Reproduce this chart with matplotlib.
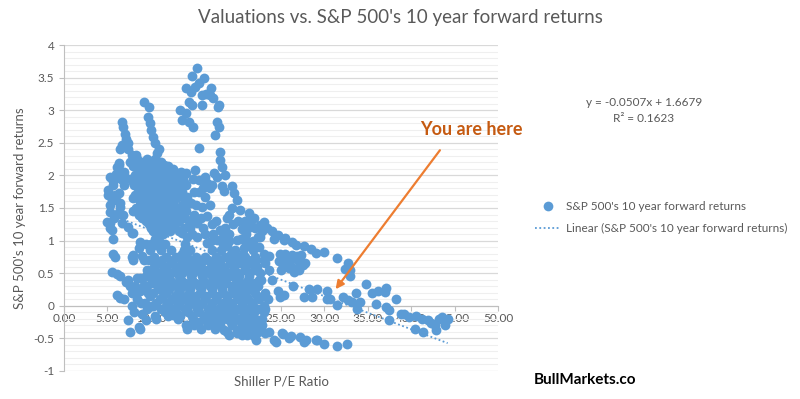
import numpy as np
import matplotlib
matplotlib.use("Agg")
import matplotlib.pyplot as plt
from matplotlib.lines import Line2D
from matplotlib.ticker import MultipleLocator, FuncFormatter

plt.rcParams['font.family'] = ['Lato', 'DejaVu Sans']

# (Shiller P/E, 10y forward return), grouped by region
left_cluster = [
    (6.7, 2.82), (6.8, 2.74), (7.0, 2.64), (7.2, 2.56), (7.4, 2.49), (7.2, 2.45), (6.7, 2.47),
    (6.5, 2.40), (7.4, 2.41), (6.3, 2.19), (6.1, 2.13), (6.3, 2.16), (6.0, 2.02), (5.3, 1.98),
    (5.9, 1.98), (7.0, 1.98), (6.6, 1.95), (5.7, 1.86), (6.9, 1.85), (5.1, 1.78), (6.3, 1.73),
    (5.9, 1.70), (5.1, 1.70), (5.3, 1.55), (6.4, 1.57), (6.5, 1.52), (5.3, 1.44), (6.3, 1.44),
    (6.8, 1.39), (4.9, 1.29), (5.3, 1.27), (6.7, 1.27), (5.3, 1.20), (5.5, 1.16), (7.4, 1.21),
    (7.8, 1.11), (8.0, 1.11), (5.7, 1.03), (5.6, 0.80), (5.9, 0.75), (5.5, 0.52), (6.1, 0.48),
    (6.5, 0.45), (6.1, 0.17), (6.5, 0.12), (6.9, 0.10), (7.8, 0.75), (8.0, 0.70), (8.6, 0.88),
    (9.0, 0.77), (9.2, 0.70), (8.0, 0.78), (8.8, 0.98), (7.2, 0.37), (7.6, 0.30), (7.8, 0.20),
    (8.8, 0.42), (8.4, 0.42), (7.4, 0.40), (8.4, 0.10), (8.8, 0.22), (7.8, 0.00), (7.4, -0.22),
    (7.6, -0.40), (8.6, -0.32), (8.8, -0.35), (9.3, 0.04), (10.1, 0.00), (9.7, 0.19), (9.2, 0.32),
    (9.4, 0.45), (10.1, 0.40), (9.6, 0.55), (9.9, 0.85), (10.5, 0.65), (10.5, 0.93),
    (5.6, 1.92), (6.0, 1.62), (5.8, 1.35), (6.9, 2.05), (5.5, 1.62), (8.2, 0.30), (8.1, -0.10),
    (8.9, 0.05), (9.0, -0.12),
]

tower = [
    (9.2, 3.13), (9.8, 3.05), (9.7, 2.90), (9.9, 2.80), (10.0, 2.70), (10.3, 2.59), (10.5, 2.50),
    (10.9, 2.41), (10.7, 2.34), (10.9, 2.21), (7.8, 2.31), (8.3, 2.31), (7.6, 2.21), (8.6, 2.21),
    (11.5, 2.16), (12.2, 2.08), (13.0, 2.04), (14.0, 2.03), (15.1, 2.08),
]

peak = [
    (15.3, 3.65), (14.8, 3.53), (16.1, 3.50), (14.0, 3.34), (14.6, 3.28), (15.1, 3.36), (15.5, 3.42),
    (16.9, 3.34), (16.8, 3.23), (17.2, 3.18), (17.8, 3.08), (15.9, 3.23), (14.7, 3.08), (14.4, 3.13),
    (13.4, 3.00), (14.0, 2.95), (15.9, 3.08), (13.6, 2.85), (14.4, 2.82), (14.9, 2.75), (17.6, 2.82),
    (17.8, 2.74), (17.4, 2.62), (15.5, 2.42), (18.0, 2.36), (18.0, 2.23), (18.2, 2.13), (17.3, 2.04),
    (17.7, 3.05), (16.4, 3.25),
]

upper_blob = [
    (8.0, 2.2), (9.0, 2.2), (10.0, 2.2), (11.2, 2.2),
    (8.5, 2.1), (9.5, 2.1), (10.5, 2.1), (11.5, 2.1), (12.6, 2.1),
    (8.2, 2.0), (9.2, 2.0), (10.2, 2.0), (11.0, 2.0), (12.0, 2.0), (13.2, 2.0),
    (8.0, 1.9), (9.0, 1.9), (9.8, 1.9), (10.8, 1.9), (11.8, 1.9), (12.8, 1.9), (13.8, 1.9),
    (8.5, 1.8), (9.5, 1.8), (10.4, 1.8), (11.3, 1.8), (12.3, 1.8), (13.3, 1.8),
    (8.2, 1.7), (9.1, 1.7), (10.0, 1.7), (11.0, 1.7), (12.0, 1.7), (12.9, 1.7),
    (8.7, 1.6), (9.6, 1.6), (10.6, 1.6), (11.5, 1.6), (12.5, 1.6),
    (8.3, 1.5), (9.2, 1.5), (10.2, 1.5), (11.1, 1.5), (12.1, 1.5), (13.2, 1.5),
    (8.6, 1.4), (9.7, 1.4), (10.7, 1.4), (11.6, 1.4), (12.7, 1.4), (13.7, 1.4),
    (9.4, 1.3), (10.3, 1.3), (11.2, 1.3), (12.2, 1.3), (13.3, 1.3),
    (10.0, 1.2), (10.9, 1.2), (11.8, 1.2), (12.4, 1.2), (13.8, 1.2),
    (10.6, 1.1), (11.4, 1.1), (13.6, 1.11), (11.0, 1.0), (13.8, 0.86),
    (8.4, 2.25), (9.6, 2.25), (10.5, 2.25),
    (7.9, 2.15), (8.9, 2.15), (9.9, 2.15), (10.9, 2.15), (12.0, 2.15),
    (8.7, 2.05), (9.7, 2.05), (10.6, 2.05), (11.5, 2.05), (12.5, 2.05), (13.5, 2.05),
    (7.7, 1.95), (8.5, 1.95), (9.4, 1.95), (10.3, 1.95), (11.3, 1.95), (12.3, 1.95), (13.2, 1.95),
    (8.1, 1.85), (9.0, 1.85), (9.9, 1.85), (10.9, 1.85), (11.8, 1.85), (12.8, 1.85), (14.0, 1.85),
    (8.6, 1.75), (9.6, 1.75), (10.5, 1.75), (11.5, 1.75), (12.5, 1.75), (13.6, 1.75),
    (8.0, 1.65), (9.0, 1.65), (9.9, 1.65), (10.9, 1.65), (11.9, 1.65), (12.9, 1.65), (13.8, 1.65),
    (8.8, 1.55), (9.7, 1.55), (10.7, 1.55), (11.6, 1.55), (12.6, 1.55), (13.6, 1.55),
    (7.9, 1.45), (9.0, 1.45), (10.0, 1.45), (11.0, 1.45), (11.9, 1.45), (12.9, 1.45),
    (9.0, 1.35), (10.0, 1.35), (10.9, 1.35), (11.8, 1.35), (12.8, 1.35), (13.9, 1.35),
    (9.8, 1.25), (10.7, 1.25), (11.6, 1.25), (12.8, 1.25),
    (10.2, 1.15), (11.1, 1.15), (12.2, 1.15), (13.2, 1.15),
    (9.5, 0.95), (10.0, 0.95), (11.6, 0.95), (10.5, 1.02), (11.1, 0.90), (13.9, 0.95),
]

middle_bands = [
    (13.8, 2.00), (15.5, 1.93), (16.5, 1.88), (17.6, 1.98), (18.6, 2.00), (18.2, 1.83), (18.4, 1.76),
    (19.4, 1.83), (19.6, 1.73), (19.9, 1.62), (19.4, 1.50), (20.3, 1.47), (21.3, 1.42), (21.9, 1.34),
    (23.0, 1.29), (22.4, 1.06), (21.5, 0.96), (20.7, 0.88), (19.9, 1.01), (14.2, 1.67), (14.6, 1.57),
    (16.3, 1.67), (15.9, 1.52), (16.5, 1.37), (15.3, 1.27), (14.5, 1.19), (18.0, 1.16), (17.6, 1.01),
    (16.5, 0.96), (18.8, 0.91), (19.7, 0.86), (16.0, 1.80), (18.8, 1.35), (19.5, 1.25), (20.5, 1.18),
    (21.0, 1.10), (17.0, 1.25), (18.3, 1.05), (20.9, 1.30), (22.0, 1.20), (15.0, 1.75), (16.8, 1.55),
    (14.0, 1.45), (15.0, 1.40), (14.4, 1.30), (16.0, 1.20), (17.2, 1.10), (19.0, 1.10), (16.8, 1.80),
    (15.3, 1.05), (14.2, 1.05), (16.9, 1.00), (18.5, 1.20), (20.0, 1.30), (21.2, 1.20), (22.8, 1.15),
    (21.8, 1.00), (20.4, 1.02),
    (14.0, 1.55), (15.2, 1.55), (15.6, 1.75), (14.9, 1.95), (16.3, 1.98), (17.0, 1.85), (15.8, 1.35),
    (14.8, 1.10), (16.3, 1.10), (17.5, 1.30), (19.0, 1.40), (19.0, 1.00), (18.3, 0.95), (20.8, 1.05),
    (21.5, 1.30), (22.5, 0.90), (21.0, 0.92), (14.5, 0.85),
]

lower_blob = [
    (11.2, 0.85), (12.3, 0.85), (13.6, 0.80), (17.1, 0.85), (18.1, 0.85), (19.2, 0.80), (20.6, 0.80), (21.8, 0.85),
    (10.4, 0.75), (11.8, 0.75), (12.9, 0.75), (14.2, 0.75), (15.2, 0.75), (16.2, 0.75), (17.5, 0.75),
    (18.6, 0.75), (19.7, 0.75), (20.8, 0.75), (22.0, 0.75),
    (9.8, 0.70), (11.3, 0.70), (12.6, 0.70), (14.0, 0.70), (15.3, 0.70), (16.6, 0.70), (17.9, 0.70),
    (19.2, 0.70), (20.5, 0.70), (21.7, 0.70), (23.0, 0.70),
    (10.9, 0.65), (12.3, 0.65), (13.6, 0.65), (14.8, 0.65), (15.8, 0.65), (16.9, 0.65), (18.0, 0.65),
    (19.1, 0.65), (20.3, 0.65), (21.4, 0.65),
    (10.4, 0.60), (11.8, 0.60), (13.1, 0.60), (14.4, 0.60), (15.7, 0.60), (17.0, 0.60), (18.3, 0.60),
    (19.6, 0.60), (20.9, 0.60), (22.2, 0.60),
    (10.1, 0.55), (11.4, 0.55), (12.8, 0.55), (14.1, 0.55), (15.3, 0.55), (16.4, 0.55), (17.5, 0.55),
    (18.6, 0.55), (19.6, 0.55), (20.8, 0.55), (21.9, 0.55),
    (9.8, 0.50), (11.0, 0.50), (12.3, 0.50), (13.6, 0.50), (14.9, 0.50), (16.2, 0.50), (17.4, 0.50),
    (18.7, 0.50), (20.0, 0.50), (21.3, 0.50), (22.6, 0.50),
    (10.6, 0.45), (11.9, 0.45), (13.2, 0.45), (14.6, 0.45), (15.9, 0.45), (17.0, 0.45), (18.1, 0.45),
    (19.2, 0.45), (20.2, 0.45), (21.3, 0.45),
    (10.9, 0.40), (12.2, 0.40), (13.5, 0.40), (14.8, 0.40), (16.0, 0.40), (17.3, 0.40), (18.6, 0.40),
    (19.9, 0.40), (21.2, 0.40), (22.5, 0.40),
    (10.2, 0.35), (11.3, 0.35), (12.6, 0.35), (13.9, 0.35), (15.1, 0.35), (16.4, 0.35), (17.6, 0.35),
    (18.7, 0.35), (19.8, 0.35), (20.9, 0.35), (22.0, 0.35),
    (9.6, 0.30), (11.6, 0.30), (12.9, 0.30), (14.2, 0.30), (15.5, 0.30), (16.8, 0.30), (18.1, 0.30),
    (19.4, 0.30), (20.6, 0.30), (21.8, 0.30),
    (10.8, 0.25), (12.1, 0.25), (13.4, 0.25), (14.5, 0.25), (15.8, 0.25), (17.0, 0.25), (18.2, 0.25),
    (19.3, 0.25), (20.4, 0.25), (21.5, 0.25),
    (10.3, 0.20), (11.8, 0.20), (13.1, 0.20), (14.4, 0.20), (15.7, 0.20), (17.0, 0.20), (18.3, 0.20),
    (19.5, 0.20), (20.7, 0.20), (22.0, 0.20), (23.2, 0.20),
    (9.9, 0.15), (11.4, 0.15), (12.8, 0.15), (14.0, 0.15), (15.2, 0.15), (16.4, 0.15), (17.6, 0.15),
    (18.8, 0.15), (19.9, 0.15), (21.0, 0.15), (22.2, 0.15),
    (11.1, 0.10), (12.4, 0.10), (13.7, 0.10), (15.0, 0.10), (16.3, 0.10), (17.5, 0.10), (18.8, 0.10),
    (20.0, 0.10), (21.2, 0.10), (22.5, 0.10),
    (10.6, 0.05), (12.0, 0.05), (13.3, 0.05), (14.6, 0.05), (15.9, 0.05), (17.1, 0.05), (18.3, 0.05),
    (19.4, 0.05), (20.5, 0.05), (21.7, 0.05),
    (10.2, 0.00), (11.7, 0.00), (13.0, 0.00), (14.3, 0.00), (15.6, 0.00), (16.9, 0.00), (18.1, 0.00),
    (19.3, 0.00), (20.6, 0.00), (21.8, 0.00), (23.0, 0.00),
    (9.6, -0.05), (11.2, -0.05), (12.6, -0.05), (13.9, -0.05), (15.3, -0.05), (16.6, -0.05),
    (17.8, -0.05), (18.9, -0.05), (20.0, -0.05), (21.2, -0.05), (22.3, -0.05),
    (11.6, -0.10), (12.9, -0.10), (14.3, -0.10), (15.6, -0.10), (16.9, -0.10), (18.2, -0.10),
    (19.5, -0.10), (20.6, -0.10), (21.9, -0.10), (23.0, -0.10),
    (10.5, -0.15), (12.0, -0.15), (12.6, -0.14), (13.4, -0.15), (14.8, -0.15), (16.1, -0.15),
    (16.5, -0.17), (17.3, -0.15), (18.5, -0.15), (19.6, -0.15), (20.8, -0.15), (21.8, -0.15),
    (10.6, -0.20), (13.1, -0.20), (14.9, -0.20), (16.3, -0.20), (17.7, -0.20), (18.8, -0.20),
    (20.0, -0.20), (21.0, -0.20), (22.0, -0.20),
    (9.5, -0.22), (14.0, -0.29), (15.5, -0.25), (17.0, -0.25), (18.0, -0.25), (19.2, -0.25),
    (20.4, -0.25), (21.4, -0.25), (22.5, -0.25),
    (15.0, -0.30), (16.6, -0.30), (18.0, -0.30), (19.4, -0.30), (20.5, -0.30), (21.6, -0.30), (22.8, -0.30),
    (14.2, -0.35), (15.8, -0.35), (17.4, -0.35), (18.4, -0.37), (19.9, -0.42), (21.0, -0.35),
    (22.0, -0.35), (19.0, -0.45), (20.5, -0.45), (21.1, -0.45), (22.1, -0.52),
    (18.8, -0.40), (20.0, -0.40), (22.4, -0.40),
    (22.1, 0.70), (23.0, 0.80), (23.6, 0.55), (24.0, 0.40), (22.7, 0.40), (22.3, 0.30),
    (24.9, 0.14), (25.3, 0.16), (24.6, 0.22), (23.5, 0.10), (23.2, -0.05), (22.8, -0.20),
]

right_side = [
    (22.6, 1.24), (23.4, 1.19), (24.0, 1.14), (24.7, 1.09), (25.5, 1.04), (26.3, 0.98), (26.7, 0.93),
    (27.6, 0.91), (28.4, 0.87), (29.0, 0.81), (29.9, 0.83), (31.4, 0.74), (32.7, 0.66), (32.4, 0.57),
    (33.0, 0.55), (32.9, 0.45), (22.6, 1.06), (24.2, 1.03), (25.3, 1.01), (23.6, 0.76), (23.1, 0.65),
    (24.9, 0.80), (25.6, 0.72), (26.3, 0.78), (27.0, 0.70), (27.5, 0.62), (25.2, 0.60), (26.0, 0.62),
    (26.8, 0.58), (24.8, 0.68), (26.5, 0.52), (25.5, 0.80), (26.0, 0.70), (26.8, 0.76), (27.3, 0.78),
    (25.0, 0.55), (27.8, 0.66), (27.1, 0.55), (25.9, 0.58),
    (26.4, 0.31), (28.2, 0.25), (29.1, 0.26), (27.6, 0.14), (28.6, 0.14), (30.3, 0.22), (30.3, 0.11),
    (30.7, 0.10), (31.5, 0.01), (32.2, 0.14), (32.7, 0.09), (33.2, 0.06), (33.6, 0.20), (34.1, 0.06),
    (33.8, -0.05), (34.8, 0.33), (35.5, 0.20), (35.9, 0.03), (36.2, 0.22), (37.1, 0.28), (37.0, 0.21),
    (37.1, -0.02), (37.4, -0.06), (37.4, -0.22), (38.2, 0.11), (38.8, -0.12), (39.2, -0.13),
    (39.8, -0.17), (40.5, -0.16), (40.4, -0.35), (41.4, -0.40), (41.3, -0.20), (41.9, -0.22),
    (42.3, -0.26), (42.7, -0.30), (42.8, -0.37), (43.2, -0.20), (43.6, -0.17), (43.9, -0.29),
    (44.2, -0.21),
    (19.9, -0.37), (21.1, -0.42), (21.9, -0.47), (22.6, -0.32), (23.1, -0.42), (23.6, -0.40),
    (24.2, -0.52), (24.4, -0.55), (25.1, -0.42), (25.2, -0.44), (25.9, -0.50), (26.2, -0.47),
    (27.2, -0.48), (27.6, -0.55), (27.9, -0.52), (29.0, -0.53), (29.1, -0.52), (30.0, -0.58),
    (31.5, -0.62), (32.6, -0.58),
]

# trendline as printed on the chart
slope = -0.0507
intercept = 1.6679
r_squared = 0.1623

x_ticks = [0, 5, 10, 15, 20, 25, 30, 35, 40, 45, 50]

points = left_cluster + tower + peak + upper_blob + middle_bands + lower_blob + right_side
pe = np.array([p[0] for p in points])
ret = np.array([p[1] for p in points])

blue = '#5B9BD5'
grey_text = '#595959'

fig = plt.figure(figsize=(8, 3.99), dpi=100)
ax = fig.add_axes([0.08, 0.0702, 0.5425, 0.817])

ax.scatter(pe, ret, s=50, color=blue, linewidths=0, zorder=3)

xs = np.array([pe.min(), pe.max()])
ax.plot(xs, slope * xs + intercept, color=blue, lw=1.3, linestyle=(0, (1, 1.4)), zorder=4)

ax.set_xlim(0, 50)
ax.set_ylim(-1, 4)
ax.set_xticks(x_ticks)
ax.xaxis.set_major_formatter(FuncFormatter(lambda v, p: f'{v:.2f}'))
ax.yaxis.set_major_locator(MultipleLocator(0.5))
ax.yaxis.set_minor_locator(MultipleLocator(0.1))
ax.yaxis.set_major_formatter(FuncFormatter(lambda v, p: f'{v:g}'))

ax.set_axisbelow(True)
ax.grid(axis='y', which='major', color='#d9d9d9', lw=0.9)
ax.grid(axis='y', which='minor', color='#efefef', lw=0.8)

for side in ['top', 'right']:
    ax.spines[side].set_visible(False)
ax.spines['bottom'].set_position(('data', 0))
ax.spines['bottom'].set_color('#bfbfbf')
ax.spines['left'].set_color('#bfbfbf')
ax.tick_params(axis='both', which='major', color='#bfbfbf', length=3.5, labelsize=8.5, labelcolor=grey_text)
ax.tick_params(axis='y', which='minor', length=0)
ax.tick_params(axis='x', pad=2)

fig.text(0.5, 0.955, "Valuations vs. S&P 500's 10 year forward returns", ha='center', va='center',
         fontsize=13.5, color=grey_text)
fig.text(0.352, 0.043, 'Shiller P/E Ratio', ha='center', va='center', fontsize=9.5, color=grey_text)
fig.text(0.025, 0.479, "S&P 500's 10 year forward returns", ha='center', va='center', rotation=90,
         fontsize=9.5, color=grey_text)

fig.text(0.805, 0.742, f'y = {slope}x + {intercept}', ha='center', va='center', fontsize=8.5, color=grey_text)
fig.text(0.805, 0.704, f'R² = {r_squared}', ha='center', va='center', fontsize=8.5, color=grey_text)

handles = [
    Line2D([], [], marker='o', linestyle='none', color=blue, markersize=7, markeredgewidth=0),
    Line2D([], [], color=blue, lw=1.3, linestyle=(0, (1, 1.4))),
]
labels = ["S&P 500's 10 year forward returns", "Linear (S&P 500's 10 year forward returns)"]
fig.legend(handles, labels, loc='center left', bbox_to_anchor=(0.655, 0.455), frameon=False,
           fontsize=8.5, labelcolor=grey_text, handlelength=2.2, handletextpad=0.5, labelspacing=0.9)

ax.text(46.9, 2.70, 'You are here', ha='center', va='center', fontsize=13, fontweight='bold',
        color='#C55A11', clip_on=False)
ax.annotate('', xy=(31.1, 0.22), xytext=(43.5, 2.42),
            arrowprops=dict(arrowstyle='-|>', color='#ED7D31', lw=1.6, mutation_scale=12), annotation_clip=False)

fig.text(0.731, 0.048, 'BullMarkets.co', ha='center', va='center', fontsize=11, fontweight='bold', color='black')

fig.savefig('out.png', dpi=100)
